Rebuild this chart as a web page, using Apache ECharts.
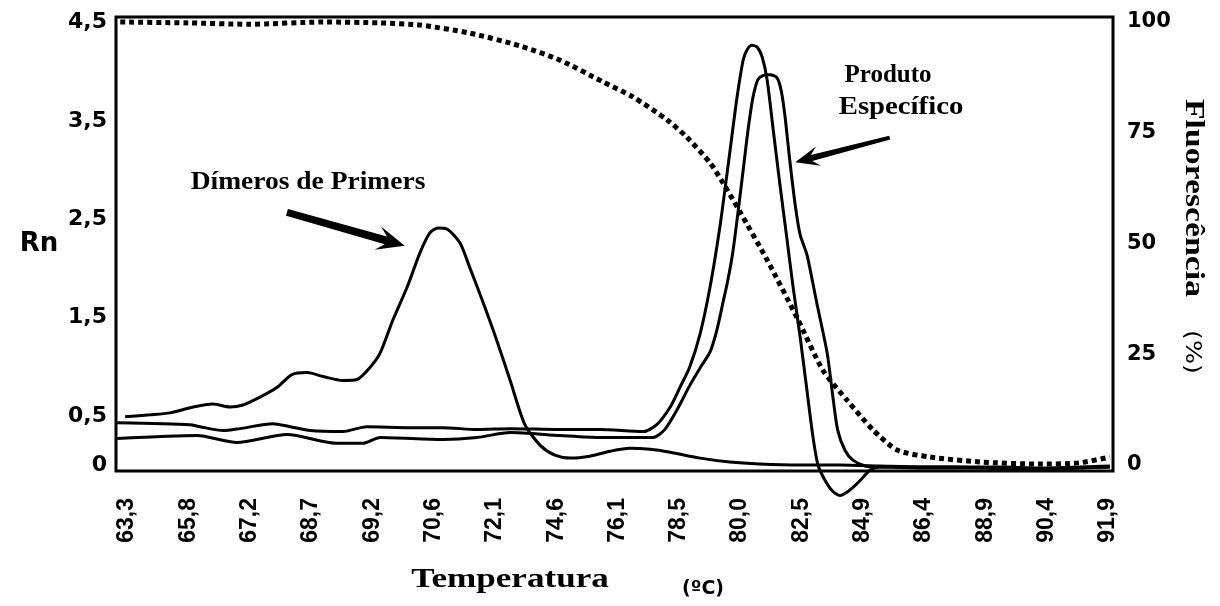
<!DOCTYPE html>
<html>
<head>
<meta charset="utf-8">
<script src="https://cdn.jsdelivr.net/npm/echarts@6/dist/echarts.min.js"></script>
<style>
  html, body { margin: 0; padding: 0; background: #fff; }
  #chart { width: 1220px; height: 606px; }
</style>
</head>
<body>
<div id="chart"></div>
<script>
// Temperature tick labels (one per reading index, as printed on the instrument export)
const tickLabels = ['63,3','65,8','67,2','68,7','69,2','70,6','72,1','74,6','76,1','78,5','80,0','82,5','84,9','86,4','88,9','90,4','91,9'];
const tickIndex = tickLabels.map((_, i) => i);
const rnTicks = [0, 0.5, 1.5, 2.5, 3.5, 4.5];
const fluoTicks = [0, 25, 50, 75, 100];

// Melt curves: [reading index, Rn]
const dimerCurve = [[-0.03,0.49],[0.38,0.51],[0.70,0.53],[1.08,0.59],[1.40,0.62],[1.68,0.59],[1.89,0.61],[2.17,0.69],[2.45,0.79],[2.69,0.92],[2.94,0.94],[3.20,0.90],[3.52,0.86],[3.75,0.87],[3.96,0.99],[4.13,1.14],[4.34,1.48],[4.57,1.81],[4.78,2.16],[4.94,2.36],[5.07,2.41],[5.22,2.40],[5.43,2.26],[5.59,2.01],[5.81,1.65],[6.03,1.27],[6.25,0.86],[6.49,0.41],[6.74,0.20],[6.98,0.10],[7.23,0.07],[7.55,0.09],[7.88,0.14],[8.20,0.17],[8.53,0.16],[8.86,0.13],[9.35,0.07],[9.83,0.03],[10.32,0.01],[10.98,0.00],[11.63,0.00],[12.28,-0.01],[12.93,-0.02],[13.59,-0.02],[14.24,-0.02],[14.89,-0.03],[15.54,-0.02],[16.03,-0.01]];

const productCurveA = [[-0.16,0.43],[1.03,0.41],[1.19,0.39],[1.57,0.35],[1.84,0.37],[2.38,0.42],[2.66,0.39],[2.99,0.35],[3.52,0.34],[3.91,0.39],[4.62,0.38],[5.15,0.38],[5.71,0.36],[6.25,0.37],[7.06,0.36],[7.71,0.36],[8.42,0.34],[8.64,0.41],[8.86,0.59],[9.02,0.79],[9.18,1.00],[9.35,1.34],[9.51,1.81],[9.67,2.42],[9.83,3.17],[9.95,3.74],[10.05,4.12],[10.11,4.22],[10.19,4.27],[10.28,4.25],[10.36,4.15],[10.44,3.92],[10.54,3.41],[10.65,2.85],[10.76,2.32],[10.86,1.83],[10.98,1.30],[11.09,0.76],[11.19,0.28],[11.27,0.00],[11.38,-0.15],[11.50,-0.26],[11.63,-0.31],[11.76,-0.27],[11.89,-0.20],[12.00,-0.13],[12.12,-0.05],[12.28,-0.02],[13.0,-0.03],[14.0,-0.03],[14.9,-0.05],[15.5,-0.03],[16.03,-0.02]];

const productCurveB = [[-0.16,0.27],[1.14,0.30],[1.79,0.23],[2.61,0.31],[3.43,0.22],[3.85,0.22],[4.13,0.28],[5.15,0.26],[5.71,0.28],[6.25,0.33],[7.06,0.30],[7.71,0.28],[8.58,0.28],[8.77,0.36],[8.97,0.56],[9.18,0.81],[9.35,0.99],[9.51,1.15],[9.62,1.37],[9.72,1.65],[9.80,1.88],[9.88,2.16],[9.96,2.54],[10.05,3.00],[10.13,3.41],[10.21,3.74],[10.29,3.92],[10.37,3.96],[10.49,3.97],[10.60,3.94],[10.67,3.81],[10.73,3.56],[10.81,3.10],[10.90,2.64],[10.98,2.34],[11.09,2.14],[11.25,1.65],[11.42,1.14],[11.51,0.71],[11.59,0.36],[11.71,0.15],[11.84,0.05],[12.04,-0.01],[12.28,-0.02],[13.5,-0.02],[14.5,-0.04],[15.5,-0.03],[16.03,-0.02]];

// Fluorescence remaining (%): [reading index, %]
const fluorescence = [[-0.11,100.0],[1.00,99.8],[2.00,99.5],[3.20,100.0],[4.13,99.8],[4.78,99.3],[5.59,97.5],[6.41,94.6],[7.06,91.4],[7.76,86.5],[8.25,83.1],[8.81,77.9],[9.13,74.0],[9.51,68.2],[9.72,63.7],[10.00,57.1],[10.44,46.3],[10.93,33.2],[11.35,21.4],[11.74,14.7],[12.17,7.9],[12.56,3.4],[13.10,1.8],[13.91,0.7],[14.89,0.2],[15.54,0.5],[16.03,1.8]];

// Arrow anchors in data units: [tail, tip]
const dimerArrow = [[2.61, 2.57], [4.53, 2.23]];
const productArrow = [[12.44, 3.33], [10.90, 3.08]];

const chart = echarts.init(document.getElementById('chart'), null, { renderer: 'canvas' });

const numFont = { fontFamily: 'DejaVu Sans', fontWeight: 'bold', color: '#000' };
const solid = { color: '#000', width: 3 };

function curve(name, data, yAxisIndex, lineStyle) {
  return {
    name, type: 'line', data, yAxisIndex,
    showSymbol: false, smooth: 0.25, clip: false,
    lineStyle, emphasis: { disabled: true }, z: 3
  };
}

chart.setOption({
  animation: false,
  backgroundColor: '#fff',
  grid: {
    left: 116, right: 107, top: 17, bottom: 135,
    show: true, borderColor: '#000', borderWidth: 3, backgroundColor: 'transparent'
  },
  xAxis: {
    type: 'value', min: -0.179, max: 16.082,
    axisLine: { show: false }, axisTick: { show: false }, splitLine: { show: false },
    axisLabel: {
      customValues: tickIndex,
      formatter: v => tickLabels[Math.round(v)],
      rotate: 90, margin: 27,
      fontFamily: 'Liberation Sans', fontWeight: 'bold', fontSize: 23, color: '#000'
    }
  },
  yAxis: [
    {
      type: 'value', min: -0.061, max: 4.557, position: 'left',
      axisLine: { show: false }, axisTick: { show: false }, splitLine: { show: false },
      axisLabel: Object.assign({
        customValues: rnTicks, margin: 9, fontSize: 22,
        formatter: v => String(v).replace('.', ',')
      }, numFont)
    },
    {
      type: 'value', min: -1.354, max: 101.13, position: 'right',
      axisLine: { show: false }, axisTick: { show: false }, splitLine: { show: false },
      axisLabel: Object.assign({ customValues: fluoTicks, margin: 14, fontSize: 21 }, numFont)
    }
  ],
  series: [
    curve('Fluorescência', fluorescence, 1, { color: '#000', width: 5, type: [5, 4], cap: 'butt' }),
    curve('Dímeros de Primers', dimerCurve, 0, solid),
    curve('Produto A', productCurveA, 0, solid),
    curve('Produto B', productCurveB, 0, solid)
  ]
});

// Thick annotation arrow with a swept-back head, drawn between two data points
function arrow(pair, wTail, wHead, headLen, headHalf) {
  const t = chart.convertToPixel({ xAxisIndex: 0, yAxisIndex: 0 }, pair[0]);
  const p = chart.convertToPixel({ xAxisIndex: 0, yAxisIndex: 0 }, pair[1]);
  const dx = p[0] - t[0], dy = p[1] - t[1];
  const len = Math.hypot(dx, dy);
  const u = [dx / len, dy / len], v = [-u[1], u[0]];
  const at = (base, along, side) => [base[0] + u[0] * along + v[0] * side, base[1] + u[1] * along + v[1] * side];
  const points = [
    at(t, 0, wTail / 2),
    at(p, -headLen * 0.7, wHead / 2),
    at(p, -headLen, headHalf),
    p,
    at(p, -headLen, -headHalf),
    at(p, -headLen * 0.7, -wHead / 2),
    at(t, 0, -wTail / 2)
  ];
  return { type: 'polygon', shape: { points }, style: { fill: '#000' }, z: 10 };
}

function label(text, x, y, font, extra) {
  return Object.assign({
    type: 'text', x, y, z: 10,
    style: { text, font, fill: '#000', align: 'center', verticalAlign: 'middle' }
  }, extra || {});
}

const serif = 'bold 25px "Liberation Serif", "Times New Roman", serif';

chart.setOption({
  graphic: [
    arrow(dimerArrow, 7, 8, 28, 12),
    arrow(productArrow, 4, 6, 24, 10),
    label('Dímeros de Primers', 308, 183, serif, { scaleX: 1.1 }),
    label('Produto', 888, 76, serif, {}),
    label('Específico', 901, 108, serif, { scaleX: 1.15 }),
    label('Rn', 39, 244, 'bold 26px "DejaVu Sans", sans-serif', {}),
    label('Temperatura', 510, 580, 'bold 27px "Liberation Serif", serif', { scaleX: 1.3 }),
    label('(ºC)', 703, 589, 'bold 19px "DejaVu Sans", sans-serif', {}),
    label('Fluorescência', 1193, 198, 'bold 27px "Liberation Serif", serif', { rotation: -Math.PI / 2, scaleX: 1.25 }),
    label('(%)', 1192, 352, '22px "DejaVu Sans", sans-serif', { rotation: -Math.PI / 2, scaleX: 1.15 })
  ]
});
</script>
</body>
</html>
